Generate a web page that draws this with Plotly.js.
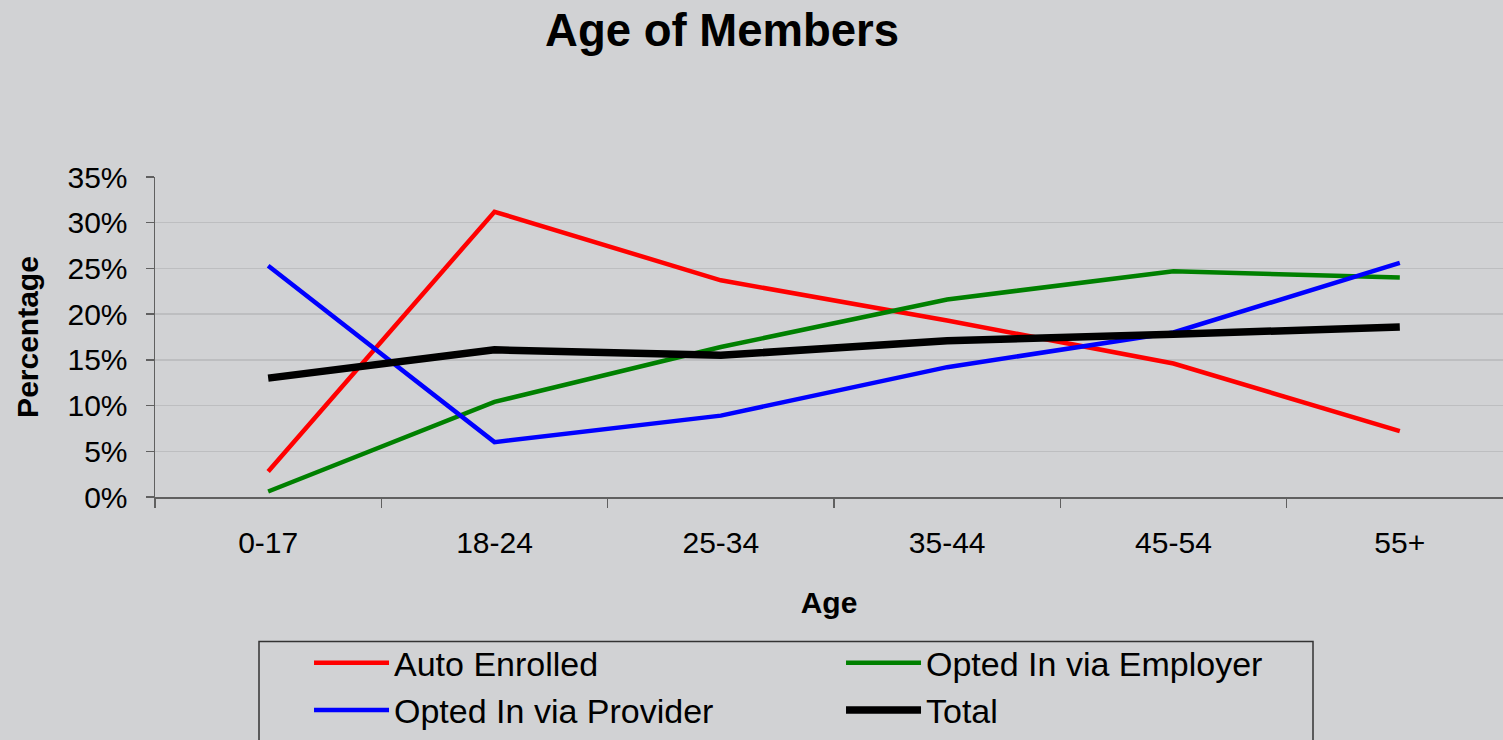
<!DOCTYPE html>
<html>
<head>
<meta charset="utf-8">
<script src="https://cdn.plot.ly/plotly-3.0.1.min.js"></script>
<style>html,body{margin:0;padding:0;background:#D1D2D4;}#chart{width:1503px;height:740px;}</style>
</head>
<body>
<div id="chart"></div>
<script>
const ageGroups = ["0-17", "18-24", "25-34", "35-44", "45-54", "55+"];
const autoEnrolled = [0.028, 0.312, 0.237, 0.193, 0.146, 0.072];
const optedEmployer = [0.006, 0.104, 0.164, 0.216, 0.247, 0.240];
const optedProvider = [0.253, 0.060, 0.089, 0.142, 0.180, 0.256];
const total = [0.130, 0.161, 0.155, 0.171, 0.178, 0.186];
const yTickVals = [0, 0.05, 0.10, 0.15, 0.20, 0.25, 0.30, 0.35];

const FONT = "Liberation Sans, Arial, sans-serif";
function tr(name, y, color, width) {
  return {type: "scatter", mode: "lines", name: name, x: ageGroups, y: y,
    line: {color: color, width: width}, hoverinfo: "skip"};
}
const data = [
  tr("Auto Enrolled", autoEnrolled, "#FF0000", 4.5),
  tr("Opted In via Employer", optedEmployer, "#008000", 4.5),
  tr("Opted In via Provider", optedProvider, "#0000FF", 4.5),
  tr("Total", total, "#000000", 7.5)
];
const layout = {
  width: 1503, height: 740,
  paper_bgcolor: "#D1D2D4", plot_bgcolor: "#D1D2D4",
  margin: {l: 155, r: 0, t: 177, b: 243, pad: 0, autoexpand: false},
  font: {family: FONT, color: "#000"},
  title: {text: "<b>Age of Members</b>", font: {family: FONT, size: 45.5, color: "#000"},
    x: 0.4804, xanchor: "center", y: 0.96, yanchor: "middle"},
  showlegend: true,
  legend: {orientation: "h", xref: "container", yref: "container",
    x: 0.2056, xanchor: "left", y: 0.143, yanchor: "top",
    bgcolor: "rgba(0,0,0,0)", borderwidth: 0,
    font: {family: FONT, size: 34, color: "#000"},
    entrywidth: 442, entrywidthmode: "pixels", itemwidth: 75, traceorder: "normal"},
  shapes: [{type: "rect", xref: "paper", yref: "paper",
    x0: (259 - 155) / 1348, x1: (1313 - 155) / 1348,
    y0: (496.7 - 760) / 319.7, y1: (496.7 - 641) / 319.7,
    line: {color: "#333", width: 1.5}, fillcolor: "rgba(0,0,0,0)", layer: "below"}],
  xaxis: {
    type: "category", range: [-0.5, 5.456], fixedrange: true, automargin: false,
    showline: true, linecolor: "#606060", linewidth: 1.5,
    ticks: "outside", tickson: "boundaries", ticklen: 9, tickcolor: "#606060", tickwidth: 1.5,
    showgrid: false, zeroline: false,
    tickfont: {family: FONT, size: 30, color: "#000"}, ticklabelstandoff: 18,
    title: {text: "<b>Age</b>", font: {family: FONT, size: 30, color: "#000"}, standoff: 34}
  },
  yaxis: {
    range: [0, 0.35], tickvals: yTickVals, tickformat: ".0%", fixedrange: true, automargin: false,
    showline: true, linecolor: "#606060", linewidth: 1.5,
    ticks: "outside", ticklen: 8, tickcolor: "#606060", tickwidth: 1.5,
    showgrid: true, gridcolor: "#BDBEC0", gridwidth: 1.5, zeroline: false,
    tickfont: {family: FONT, size: 30, color: "#000"}, ticklabelstandoff: 12,
    title: {text: "<b>Percentage</b>", font: {family: FONT, size: 30, color: "#000"}, standoff: 20}
  }
};
Plotly.newPlot("chart", data, layout, {displayModeBar: false, staticPlot: true});
</script>
</body>
</html>
